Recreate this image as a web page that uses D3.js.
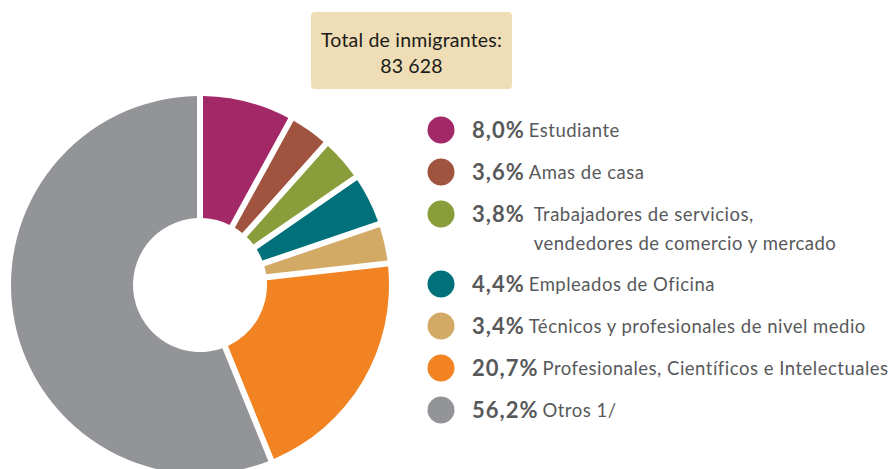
<!DOCTYPE html>
<html>
<head>
<meta charset="utf-8">
<script src="https://cdn.jsdelivr.net/npm/d3@7"></script>
<style>
  html, body { margin: 0; padding: 0; background: #fff; }
  svg { display: block; }
</style>
</head>
<body>
<svg id="chart" width="891" height="469"></svg>
<script>
// Occupation of immigrants, share of total (%)
const categories = [
  ["Estudiante"],
  ["Amas de casa"],
  ["Trabajadores de servicios,", "vendedores de comercio y mercado"],
  ["Empleados de Oficina"],
  ["Técnicos y profesionales de nivel medio"],
  ["Profesionales, Científicos e Intelectuales"],
  ["Otros 1/"]
];
const values = [8.0, 3.6, 3.8, 4.4, 3.4, 20.7, 56.2];
const valueLabels = ["8,0%", "3,6%", "3,8%", "4,4%", "3,4%", "20,7%", "56,2%"];
const colors = ["#A32868", "#A0533F", "#8A9D3B", "#00717A", "#D2AA66", "#F28322", "#939498"];
const totalTitle = "Total de inmigrantes:";
const totalValue = "83 628";

const svg = d3.select("#chart");
const font = "Lato, 'Open Sans', sans-serif";

// Donut
const cx = 200, cy = 285, outerR = 189, innerR = 67, gap = 6;
const pie = d3.pie().sort(null).value(d => d);
const arc = d3.arc()
  .innerRadius(innerR)
  .outerRadius(outerR)
  .padRadius(outerR)
  .padAngle(gap / outerR);

svg.append("g")
  .attr("transform", `translate(${cx},${cy})`)
  .selectAll("path")
  .data(pie(values))
  .join("path")
  .attr("d", arc)
  .attr("fill", (d, i) => colors[i]);

// Total box
const box = svg.append("g");
box.append("rect")
  .attr("x", 311).attr("y", 12)
  .attr("width", 201).attr("height", 77)
  .attr("rx", 4)
  .attr("fill", "#EFDDB5");
[totalTitle, totalValue].forEach((s, i) => {
  box.append("text")
    .attr("x", 411.5).attr("y", 47 + i * 26)
    .attr("text-anchor", "middle")
    .attr("font-family", font).attr("font-size", 19.5)
    .attr("letter-spacing", 0.2)
    .attr("fill", "#1a1a1a")
    .text(s);
});

// Legend rows (the wrapped label takes an extra line)
const rowPos = [130, 172, 214, 284, 326, 368, 410];

const legend = svg.append("g");
categories.forEach((lines, i) => {
  const y = rowPos[i];
  const g = legend.append("g");
  g.append("circle")
    .attr("cx", 441).attr("cy", y).attr("r", 13.5)
    .attr("fill", colors[i]);
  const num = g.append("text")
    .attr("x", 472).attr("y", y + 7.5)
    .attr("font-family", font).attr("font-size", 22).attr("font-weight", 700)
    .attr("letter-spacing", 1)
    .attr("fill", "#58595B")
    .text(valueLabels[i]);
  const w = num.node().getComputedTextLength();
  const lx = 472 + w + (lines.length > 1 ? 9 : 4);
  const t = g.append("text")
    .attr("font-family", font).attr("font-size", 18.5)
    .attr("letter-spacing", 0.5)
    .attr("fill", "#58595B");
  lines.forEach((ln, j) => {
    t.append("tspan")
      .attr("x", lx).attr("y", y + 7 + j * 29)
      .text(ln);
  });
});
</script>
</body>
</html>
